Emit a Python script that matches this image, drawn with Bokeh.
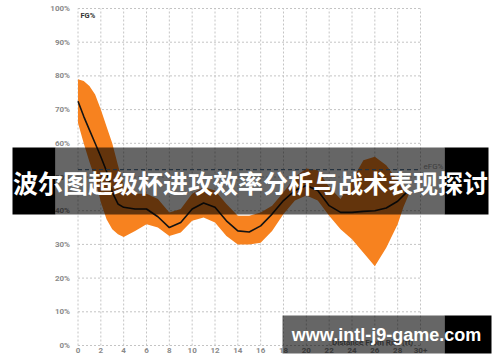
from bokeh.plotting import figure
from bokeh.models import FixedTicker, BoxAnnotation, Label, LinearAxis
from bokeh.embed import file_html
from bokeh.resources import INLINE

# ---- data ----
band_x = [0, 0.5, 1, 1.5, 2, 2.5, 3, 3.5, 4, 5, 6, 7, 8, 9, 10, 11, 12, 13, 14,
          15, 16, 17, 18, 19, 20, 21, 22, 23, 24, 25, 26, 27, 28, 28.5, 29]
band_upper = [79, 78.5, 77, 74.5, 70, 65, 60, 53.5, 47.5, 45, 45, 43.5, 39.5, 40.5,
              45, 47, 46, 42, 38.5, 38.5, 39.5, 41.5, 45.5, 50, 52.5, 52, 47, 43.5,
              49, 55, 56, 53.5, 49, 46.5, 45]
band_lower = [66, 60, 54.5, 49.5, 42.5, 37.5, 34.5, 33, 32.2, 34, 36, 35, 32.5, 33.5,
              37, 38, 36.5, 32.5, 30, 30, 30.5, 34, 39, 43, 44.5, 43, 38.5, 34.5,
              31.5, 27.5, 23.5, 29, 36, 41, 45]

line_x = [0, 0.5, 1, 1.5, 2, 2.5, 3, 3.5, 4, 5, 6, 7, 8, 9, 10, 11, 12, 13, 14, 15,
          16, 17, 18, 19, 20, 21, 22, 23, 24, 25, 26, 27, 28, 28.8]
line_fg = [72.5, 68, 64, 60, 56, 51.7, 45.5, 42, 41, 40.5, 40.5, 38.2, 35, 36.5, 40.5,
           42.3, 41, 37, 34, 33.7, 35.5, 39, 43, 46, 47.5, 46, 41.5, 39.5, 39.5, 39.8,
           40, 40.8, 42.8, 45.5]

efg_level = 52.2

x_ticks = list(range(0, 31, 2))
x_tick_labels = {t: str(t) for t in x_ticks}
x_tick_labels[30] = "30+"
y_ticks = list(range(0, 101, 10))
y_tick_labels = {t: f"{t}%" for t in y_ticks}

title_text = "波尔图超级杯进攻效率分析与战术表现探讨"
watermark_text = "www.intl-j9-game.com"
x_title = "Distance From Rim (ft)"

# ---- layout (canvas pixels) ----
W, H = 500, 362
FX0, FX1 = 77.5, 420.0     # x=0 and x=30 in canvas px
FY100, FY0 = 8.0, 345.0    # y=100 and y=0 in canvas px
sx = (FX1 - FX0) / 30.0
sy = (FY0 - FY100) / 100.0
x_range = (-FX0 / sx, 30 + (W - FX1) / sx)
y_range = (-(H - FY0) / sy, 100 + FY100 / sy)

p = figure(width=W, height=H, x_range=x_range, y_range=y_range,
           x_axis_type=None, y_axis_type=None,
           output_backend="svg", toolbar_location=None,
           min_border=0, min_border_left=0, min_border_right=0,
           min_border_top=0, min_border_bottom=0)
p.outline_line_color = None
p.background_fill_color = "white"
p.border_fill_color = "white"

xaxis = LinearAxis(fixed_location=0, ticker=FixedTicker(ticks=x_ticks),
                   major_label_overrides=x_tick_labels, major_label_standoff=-4)
yaxis = LinearAxis(fixed_location=0, ticker=FixedTicker(ticks=y_ticks),
                   major_label_overrides=y_tick_labels, major_label_standoff=2)
for ax in (xaxis, yaxis):
    ax.axis_line_color = None
    ax.major_tick_line_color = None
    ax.minor_tick_line_color = None
    ax.major_label_text_font = "Roboto"
    ax.major_label_text_font_size = "8px"
    ax.major_label_text_font_style = "bold"
    ax.major_label_text_color = "#8a8a8a"
p.add_layout(xaxis, "below")
p.add_layout(yaxis, "left")

# dotted grid
grid_style = dict(line_color="#c4c4c4", line_dash="2 2", line_width=1)
p.segment(x0=x_ticks, y0=[0] * len(x_ticks), x1=x_ticks, y1=[100] * len(x_ticks),
          **grid_style)
p.segment(x0=[0] * len(y_ticks), y0=y_ticks, x1=[30] * len(y_ticks), y1=y_ticks,
          **grid_style)

# band
px = band_x + band_x[::-1]
py = band_upper + band_lower[::-1]
p.patch(px, py, fill_color="#F7821F", line_color=None)

# median line
p.line(line_x, line_fg, line_color="#141414", line_width=1.6)

# eFG% reference line
p.segment(x0=[0], y0=[efg_level], x1=[30], y1=[efg_level], line_color="#5b7c9c",
          line_width=1.3, line_dash="4 3")

# x title (mostly hidden by watermark)
p.add_layout(Label(x=25.8, y=0.9, text=x_title, text_font="Roboto",
                   text_font_size="8px", text_font_style="bold",
                   text_color="#777777", text_align="center",
                   text_baseline="middle"))


def clabel(x, y, text, **kw):
    p.add_layout(Label(x=x, y=y, x_units="canvas", y_units="canvas", text=text,
                       text_baseline="middle", **kw))


def cbox(l, r, t, b, alpha):
    p.add_layout(BoxAnnotation(left=l, right=r, top=t, bottom=b,
                               left_units="canvas", right_units="canvas",
                               top_units="canvas", bottom_units="canvas",
                               fill_color="black", fill_alpha=alpha,
                               line_color=None))


clabel(80, 14.5, "FG%", text_font="Roboto", text_font_size="7.5px",
       text_font_style="bold", text_color="#333333")
clabel(423, 166, "eFG%", text_font="Roboto", text_font_size="8px",
       text_color="#9a9a9a")

# title banner overlay
cbox(12, 55, 147, 214, 1.0)
cbox(55, 444, 147, 214, 0.6)
cbox(444, 488, 147, 214, 1.0)
clabel(250, 181, title_text, text_font="Noto Sans CJK SC", text_font_size="25px",
       text_font_style="bold", text_color="white", text_align="center")

# watermark overlay
cbox(282, 444, 315, 353, 0.6)
cbox(444, 491, 315, 353, 1.0)
clabel(386, 334, watermark_text, text_font="Liberation Sans", text_font_size="18px",
       text_font_style="bold", text_color="white", text_align="center")

open("out.html", "w").write(file_html(p, INLINE))
